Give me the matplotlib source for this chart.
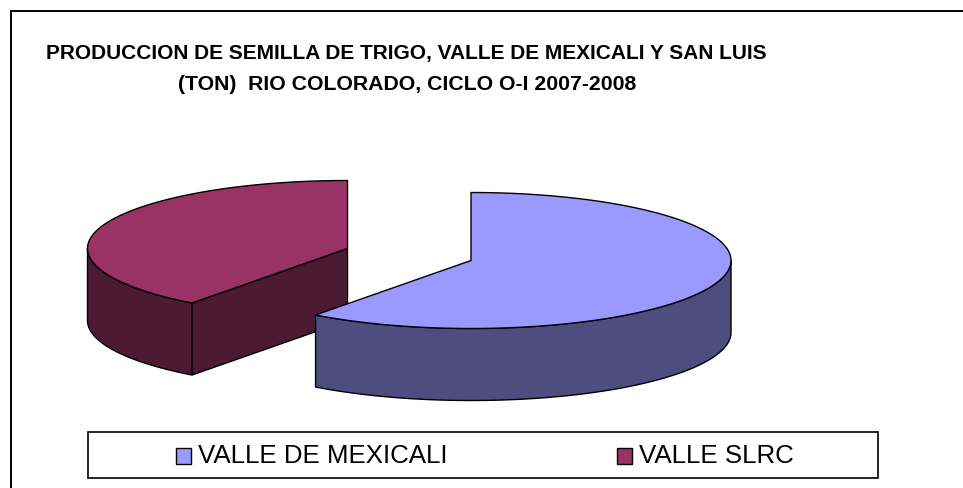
import numpy as np
import matplotlib
matplotlib.use("Agg")
import matplotlib.pyplot as plt
from matplotlib.patches import Polygon, Rectangle, Patch

categories = ["VALLE DE MEXICALI", "VALLE SLRC"]
shares = [60.2, 39.8]
title_lines = ["PRODUCCION DE SEMILLA DE TRIGO, VALLE DE MEXICALI Y SAN LUIS",
               "(TON)  RIO COLORADO, CICLO O-I 2007-2008"]
top_colors = ["#9999FF", "#993366"]
side_colors = ["#4D4D80", "#4D1A33"]
centers = [(471.0, 261.5), (347.5, 249.5)]
RX, RY, DEPTH = 260.0, 68.0, 72.0

plt.rcParams["font.family"] = ["Liberation Sans", "DejaVu Sans"]
fig = plt.figure(figsize=(9.63, 4.89), dpi=100, facecolor="white")
ax = fig.add_axes([0, 0, 1, 1])
ax.set_xlim(0, 963)
ax.set_ylim(489, 0)
ax.axis("off")

ax.plot([10.5, 10.5, 963], [489, 11.5, 11.5], color="black", lw=1.4, solid_joinstyle="miter")

angles = np.cumsum([0] + shares) / sum(shares) * 360


def rim(cx, cy, a, b):
    t = np.radians(np.linspace(a, b, 200))
    return np.column_stack([cx + RX * np.sin(t), cy - RY * np.cos(t)])


def draw_slice(i, z):
    cx, cy = centers[i]
    a, b = angles[i], angles[i + 1]
    edge = dict(edgecolor="black", linewidth=1.0, joinstyle="miter", zorder=z)
    # visible part of the outer rim (front half of the ellipse)
    lo, hi = max(a, 90), min(b, 270)
    if hi > lo:
        r = rim(cx, cy, lo, hi)
        ax.add_patch(Polygon(np.vstack([r, (r + [0, DEPTH])[::-1]]),
                             facecolor=side_colors[i], **edge))
    # cut face turned towards the viewer
    if 180 < a < 360:
        p = rim(cx, cy, a, a)[0]
        face = [(cx, cy), p, p + [0, DEPTH], (cx, cy + DEPTH)]
        ax.add_patch(Polygon(face, facecolor=side_colors[i], **edge))
    # top surface
    ax.add_patch(Polygon(np.vstack([[(cx, cy)], rim(cx, cy, a, b)]),
                         facecolor=top_colors[i], **edge))


draw_slice(1, 2)
draw_slice(0, 3)

ax.text(406, 53, title_lines[0], ha="center", va="center", fontsize=15.05, fontweight="bold", color="black")
ax.text(407.5, 84, title_lines[1], ha="center", va="center", fontsize=15.3, fontweight="bold", color="black")

ax.add_patch(Rectangle((87.5, 432.5), 790, 46, facecolor="white", edgecolor="black", lw=1.2, zorder=4))
handles = [Patch(facecolor=c, edgecolor="black", lw=1.0) for c in top_colors]
leg = ax.legend(handles, categories, loc="center", bbox_to_anchor=(485, 456),
                bbox_transform=ax.transData, ncol=2, frameon=False, fontsize=18.6,
                handlelength=0.58, handleheight=0.58, handletextpad=0.27, columnspacing=6.55,
                borderpad=0, borderaxespad=0)
leg.set_zorder(5)
for p in leg.get_patches():
    p.set_y(p.get_y() - 2.2)

fig.savefig("out.png", dpi=100, facecolor="white")
